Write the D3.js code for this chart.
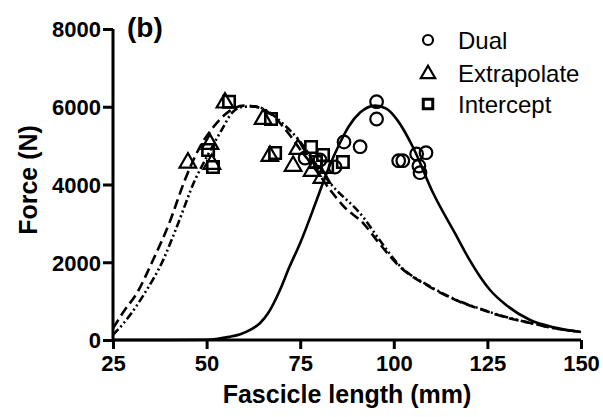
<!DOCTYPE html>
<html><head><meta charset="utf-8">
<script src="https://cdn.jsdelivr.net/npm/d3@7"></script>
<style>body{margin:0;background:#fff}svg{display:block}</style>
</head><body>
<script>
const xTicks = [25, 50, 75, 100, 125, 150];
const yTicks = [0, 2000, 4000, 6000, 8000];

const dualX = [95.4, 95.4, 86.7, 91.0, 101.3, 102.4, 106.1, 108.6, 106.7, 107.0, 76.3, 80.3, 84.3];
const dualY = [6130, 5685, 5093, 4972, 4612, 4612, 4785, 4818, 4476, 4303, 4682, 4630, 4450];

const extrapX = [54.9, 65.1, 66.9, 45.0, 50.9, 51.4, 74.4, 73.1, 78.2, 80.8];
const extrapY = [6130, 5710, 4759, 4586, 5067, 4553, 4939, 4502, 4373, 4193];

const interX = [56.0, 67.2, 68.3, 51.7, 50.4, 77.9, 81.1, 86.4, 82.2, 79.2];
const interY = [6130, 5685, 4810, 4450, 4887, 4965, 4759, 4579, 4450, 4579];

const dualFitX = [25, 40, 50, 53, 56, 59, 62, 64.3, 66.5, 69.6, 72, 75, 79.4, 82.5, 85.6, 88, 91, 95, 98, 101, 105.1, 110.5, 116.9, 120, 125.7, 130, 136.4, 143, 150];
const dualFitY = [0, 0, 5, 30, 80, 150, 280, 437, 700, 1286, 1850, 2495, 3600, 4400, 5067, 5500, 5850, 6030, 5950, 5650, 4964, 3780, 2649, 2100, 1286, 900, 514, 320, 206];

const extrapFitX = [25, 28, 31.4, 35.7, 40, 44.2, 48.2, 52, 56, 60, 63.5, 67, 72, 75, 79, 83, 87, 91.8, 96, 101.7, 109.7, 116, 123.8, 130, 136.4, 143, 150];
const extrapFitY = [300, 750, 1209, 2058, 3000, 4115, 4964, 5500, 5880, 6030, 5990, 5820, 5300, 4900, 4400, 3858, 3400, 3009, 2500, 1878, 1363, 1050, 772, 580, 437, 300, 206];

const interFitX = [25, 28, 30, 33.5, 38.4, 42, 46.9, 50, 54, 57, 60, 63, 66, 70, 75, 79, 83, 91.8, 96, 101.7, 109.7, 116, 123.8, 130, 136.4, 143, 150];
const interFitY = [130, 450, 700, 1209, 2058, 2900, 4115, 4700, 5400, 5864, 6000, 6010, 5900, 5600, 5100, 4550, 4038, 3164, 2600, 1900, 1380, 1060, 780, 590, 440, 300, 206];

const W = 603, H = 417;
const svg = d3.select("body").append("svg").attr("width", W).attr("height", H);
const x = d3.scaleLinear().domain([25, 150]).range([113, 581]);
const y = d3.scaleLinear().domain([0, 8000]).range([340, 29]);
const font = "'Liberation Sans', Arial, sans-serif";

// axes
const xa = svg.append("g").attr("transform", "translate(0,340)")
  .call(d3.axisBottom(x).tickValues(xTicks).tickSize(9).tickPadding(4).tickFormat(d3.format("d")));
const ya = svg.append("g").attr("transform", "translate(113,0)")
  .call(d3.axisLeft(y).tickValues(yTicks).tickSize(10).tickPadding(2).tickFormat(d3.format("d")));
[xa, ya].forEach(a => {
  a.select(".domain").attr("stroke", "#000").attr("stroke-width", 3).attr("d", null);
  a.selectAll(".tick line").attr("stroke", "#000").attr("stroke-width", 3);
  a.selectAll("text").attr("fill", "#000").style("font-family", font)
    .style("font-weight", "bold").style("font-size", "22px");
});
xa.select(".domain").attr("d", `M${x(25)},0H${x(150)}`);
ya.select(".domain").attr("d", `M0,${y(8000)}V${y(0)}`);
ya.selectAll("text").attr("dy", "0.36em");
xa.selectAll("text").attr("dy", "0.8em");

// titles
svg.append("text").attr("x", 347).attr("y", 403).attr("text-anchor", "middle")
  .style("font-family", font).style("font-weight", "bold").style("font-size", "25px")
  .text("Fascicle length (mm)");
svg.append("text").attr("transform", "translate(37,180) rotate(-90)").attr("text-anchor", "middle")
  .style("font-family", font).style("font-weight", "bold").style("font-size", "25px")
  .text("Force (N)");
svg.append("text").attr("x", 127).attr("y", 37)
  .style("font-family", font).style("font-weight", "bold").style("font-size", "28px")
  .text("(b)");

// fit curves
const line = d3.line().x(d => x(d[0])).y(d => y(d[1])).curve(d3.curveMonotoneX);
function drawFit(xs, ys, dash) {
  svg.append("path").datum(xs.map((v, i) => [v, ys[i]]))
    .attr("d", line).attr("fill", "none").attr("stroke", "#000")
    .attr("stroke-width", 2.6).attr("stroke-dasharray", dash);
}
drawFit(dualFitX, dualFitY, null);
drawFit(extrapFitX, extrapFitY, "10,5");
drawFit(interFitX, interFitY, "8,3,2,3,2,3");

// markers
const tri = d3.symbol().type(d3.symbolTriangle).size(120);
const sq = d3.symbol().type(d3.symbolSquare).size(130);
function pts(xs, ys) { return xs.map((v, i) => [v, ys[i]]); }

svg.append("g").selectAll("circle").data(pts(dualX, dualY)).join("circle")
  .attr("cx", d => x(d[0])).attr("cy", d => y(d[1])).attr("r", 6.3)
  .attr("fill", "none").attr("stroke", "#000").attr("stroke-width", 2.2);
svg.append("g").selectAll("path").data(pts(extrapX, extrapY)).join("path")
  .attr("d", tri).attr("transform", d => `translate(${x(d[0])},${y(d[1]) + 1})`)
  .attr("fill", "none").attr("stroke", "#000").attr("stroke-width", 2.2);
svg.append("g").selectAll("path").data(pts(interX, interY)).join("path")
  .attr("d", sq).attr("transform", d => `translate(${x(d[0])},${y(d[1])})`)
  .attr("fill", "none").attr("stroke", "#000").attr("stroke-width", 2.6);

// legend
const legendLabels = ["Dual", "Extrapolate", "Intercept"];
const lg = svg.append("g");
const ly = [40, 73, 104];
lg.append("circle").attr("cx", 428).attr("cy", ly[0]).attr("r", 5)
  .attr("fill", "none").attr("stroke", "#000").attr("stroke-width", 2.2);
lg.append("path").attr("d", d3.symbol().type(d3.symbolTriangle).size(90))
  .attr("transform", `translate(428,${ly[1] + 1})`)
  .attr("fill", "none").attr("stroke", "#000").attr("stroke-width", 2.2);
lg.append("path").attr("d", d3.symbol().type(d3.symbolSquare).size(90))
  .attr("transform", `translate(428,${ly[2]})`)
  .attr("fill", "none").attr("stroke", "#000").attr("stroke-width", 3);
legendLabels.forEach((t, i) => {
  lg.append("text").attr("x", 458).attr("y", ly[i]).attr("dy", "0.36em")
    .style("font-family", font).style("font-size", "24px").text(t);
});
</script>
</body></html>
